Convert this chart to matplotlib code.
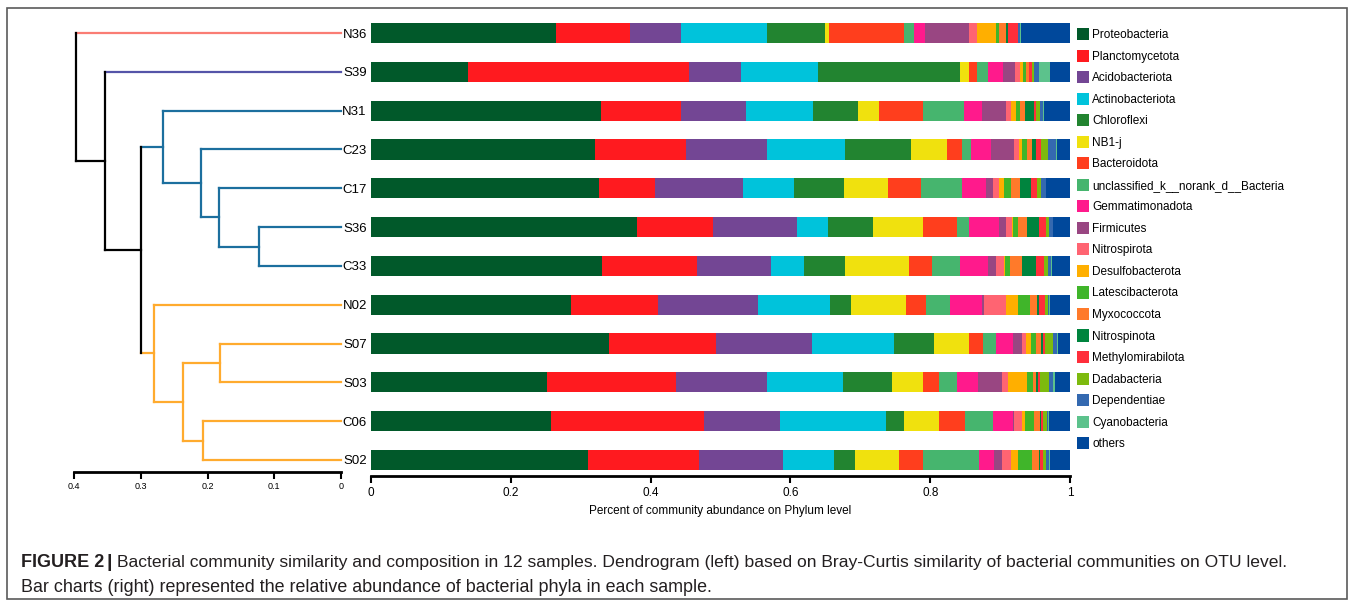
"""
Dendrogram of 12 samples (Bray-Curtis) next to stacked bars of phylum
relative abundance, with the figure caption underneath.
"""

import numpy as np
import matplotlib.pyplot as plt
from matplotlib.patches import Patch, Rectangle

plt.rcParams['font.family'] = ['Liberation Sans', 'DejaVu Sans']

W, H = 1354, 602

samples = ["N36", "S39", "N31", "C23", "C17", "S36",
           "C33", "N02", "S07", "S03", "C06", "S02"]

phyla = ["Proteobacteria", "Planctomycetota", "Acidobacteriota", "Actinobacteriota",
         "Chloroflexi", "NB1-j", "Bacteroidota", "unclassified_k__norank_d__Bacteria",
         "Gemmatimonadota", "Firmicutes", "Nitrospirota", "Desulfobacterota",
         "Latescibacterota", "Myxococcota", "Nitrospinota", "Methylomirabilota",
         "Dadabacteria", "Dependentiae", "Cyanobacteria", "others"]

phylum_colors = ["#01592a", "#ff1a1f", "#734694", "#00c3db", "#228430", "#f0e10e",
                 "#ff3e1d", "#46b56e", "#ff1a8c", "#994682", "#ff6472", "#ffaf00",
                 "#40b52a", "#ff7a2a", "#00843e", "#ff2e3b", "#7dba0e", "#3469b0",
                 "#5cc28c", "#00489b"]

# cumulative right edge of every phylum segment, one list per sample
n36 = [0.265, 0.370, 0.444, 0.567, 0.650, 0.655, 0.762, 0.777, 0.793, 0.855,
       0.867, 0.894, 0.898, 0.908, 0.911, 0.925, 0.926, 0.929, 0.930, 1.0]
s39 = [0.139, 0.455, 0.530, 0.639, 0.842, 0.855, 0.867, 0.883, 0.904, 0.922,
       0.928, 0.933, 0.937, 0.941, 0.942, 0.946, 0.948, 0.956, 0.971, 1.0]
n31 = [0.329, 0.444, 0.536, 0.632, 0.697, 0.727, 0.790, 0.849, 0.874, 0.909,
       0.916, 0.923, 0.928, 0.936, 0.948, 0.951, 0.957, 0.962, 0.963, 1.0]
c23 = [0.321, 0.451, 0.567, 0.678, 0.773, 0.824, 0.845, 0.858, 0.887, 0.920,
       0.927, 0.932, 0.938, 0.945, 0.951, 0.959, 0.968, 0.980, 0.981, 1.0]
c17 = [0.326, 0.407, 0.532, 0.605, 0.676, 0.740, 0.787, 0.845, 0.880, 0.890,
       0.899, 0.906, 0.916, 0.928, 0.944, 0.953, 0.959, 0.965, 0.966, 1.0]
s36 = [0.380, 0.489, 0.610, 0.654, 0.718, 0.790, 0.839, 0.856, 0.898, 0.908,
       0.917, 0.918, 0.925, 0.938, 0.955, 0.966, 0.970, 0.975, 0.976, 1.0]
c33 = [0.330, 0.466, 0.572, 0.619, 0.678, 0.769, 0.803, 0.842, 0.882, 0.894,
       0.905, 0.907, 0.914, 0.931, 0.951, 0.963, 0.968, 0.973, 0.974, 1.0]
n02 = [0.286, 0.410, 0.554, 0.656, 0.686, 0.765, 0.794, 0.829, 0.874, 0.877,
       0.908, 0.926, 0.943, 0.953, 0.956, 0.964, 0.968, 0.970, 0.971, 1.0]
s07 = [0.340, 0.494, 0.631, 0.748, 0.806, 0.855, 0.876, 0.894, 0.918, 0.932,
       0.937, 0.944, 0.952, 0.959, 0.961, 0.964, 0.975, 0.981, 0.983, 1.0]
s03 = [0.252, 0.437, 0.567, 0.675, 0.746, 0.789, 0.813, 0.839, 0.868, 0.903,
       0.911, 0.938, 0.947, 0.952, 0.954, 0.957, 0.970, 0.976, 0.979, 1.0]
c06 = [0.258, 0.477, 0.585, 0.737, 0.763, 0.813, 0.850, 0.890, 0.918, 0.920,
       0.931, 0.936, 0.949, 0.957, 0.959, 0.962, 0.967, 0.969, 0.970, 1.0]
s02 = [0.310, 0.469, 0.589, 0.662, 0.692, 0.755, 0.790, 0.870, 0.891, 0.903,
       0.915, 0.925, 0.945, 0.955, 0.957, 0.961, 0.965, 0.970, 0.971, 1.0]

cum_rows = [n36, s39, n31, c23, c17, s36, c33, n02, s07, s03, c06, s02]

# dendrogram as nested (height, left, right)
tree = (0.397, "N36",
        (0.354, "S39",
         (0.300,
          (0.266, "N31", (0.210, "C23", (0.183, "C17", (0.123, "S36", "C33")))),
          (0.280, "N02", (0.236, (0.181, "S07", "S03"), (0.206, "C06", "S02"))))))

sample_group = {"N36": "a", "S39": "b",
                "N31": "c", "C23": "c", "C17": "c", "S36": "c", "C33": "c",
                "N02": "d", "S07": "d", "S03": "d", "C06": "d", "S02": "d"}
group_colors = {"a": "#fa7d74", "b": "#5554a8", "c": "#1c6f9e",
                "d": "#ffab2e", "mixed": "black"}

caption_bold = "FIGURE 2"
caption_1 = ("Bacterial community similarity and composition in 12 samples. Dendrogram (left) "
             "based on Bray-Curtis similarity of bacterial communities on OTU level.")
caption_2 = "Bar charts (right) represented the relative abundance of bacterial phyla in each sample."


def px_x(x):
    return x / W


def px_y(y):
    return 1 - y / H


fig = plt.figure(figsize=(W / 100, H / 100), dpi=100)

# thin frame around the whole figure
fig.patches.append(Rectangle((px_x(7), px_y(599)), px_x(1340), (599 - 8) / H,
                             transform=fig.transFigure, fill=False,
                             edgecolor="#5a5a5a", linewidth=1.2))

row_px = (460 - 33) / 11

# ---- dendrogram ----
ax_d = fig.add_axes([px_x(74), px_y(472), px_x(267), (472 - 17) / H])
ax_d.set_xlim(0.4, 0)
ax_d.set_ylim(11 + (472 - 460) / row_px, -(33 - 17) / row_px)

leaf_y = {s: i for i, s in enumerate(samples)}


def draw_node(node):
    if isinstance(node, str):
        return leaf_y[node], 0.0, sample_group[node]
    h, a, b = node
    ya, ha, ga = draw_node(a)
    yb, hb, gb = draw_node(b)
    g = ga if ga == gb else "mixed"
    kw = dict(linewidth=1.6, solid_capstyle="projecting", clip_on=False)
    ax_d.plot([h, ha], [ya, ya], color=group_colors[ga], **kw)
    ax_d.plot([h, hb], [yb, yb], color=group_colors[gb], **kw)
    ax_d.plot([h, h], [ya, yb], color=group_colors[g], **kw)
    return (ya + yb) / 2, h, g


draw_node(tree)

for side in ["left", "top", "right"]:
    ax_d.spines[side].set_visible(False)
ax_d.spines["bottom"].set_linewidth(2)
ax_d.set_yticks([])
ax_d.set_xticks([0.4, 0.3, 0.2, 0.1, 0])
ax_d.set_xticklabels(["0.4", "0.3", "0.2", "0.1", "0"],
                     family=["Liberation Sans Narrow", "Liberation Sans"], fontsize=6.5)
ax_d.tick_params(axis="x", direction="out", length=5, width=1.5, pad=2)

# ---- stacked bars ----
ax_b = fig.add_axes([px_x(371), px_y(476), px_x(699), (476 - 17) / H])

cum = np.array(cum_rows)
widths = np.diff(np.hstack([np.zeros((len(samples), 1)), cum]), axis=1)
starts = cum - widths
y = np.arange(len(samples))
for j, name in enumerate(phyla):
    ax_b.barh(y, widths[:, j], left=starts[:, j], height=0.52,
              color=phylum_colors[j], edgecolor="none", label=name)

ax_b.set_xlim(0, 1)
ax_b.set_ylim(11 + (476 - 460) / row_px, -(33 - 17) / row_px)
for side in ["left", "top", "right"]:
    ax_b.spines[side].set_visible(False)
ax_b.spines["bottom"].set_linewidth(2)
ax_b.set_xticks([0, 0.2, 0.4, 0.6, 0.8, 1])
ax_b.set_xticklabels(["0", "0.2", "0.4", "0.6", "0.8", "1"], fontsize=8.5)
ax_b.tick_params(axis="x", direction="out", length=5, width=1.5, pad=3)
ax_b.set_yticks(y)
ax_b.set_yticklabels(samples, fontsize=9.5)
ax_b.tick_params(axis="y", length=0, pad=3)
ax_b.set_xlabel("Percent of community abundance on Phylum level", fontsize=8.5, labelpad=4)

handles = [Patch(facecolor=c, edgecolor="none", label=p)
           for p, c in zip(phyla, phylum_colors)]
fig.legend(handles=handles, loc="upper left", bbox_to_anchor=(px_x(1077), px_y(28)),
           frameon=False, fontsize=8.5, handlelength=1.0, handleheight=1.2,
           handletextpad=0.3, labelspacing=0.72, borderpad=0, borderaxespad=0)

# ---- caption ----
cap_color = "#231f20"
fig.text(px_x(21), px_y(567), caption_bold, fontsize=13, fontweight="bold",
         va="baseline", color=cap_color)
fig.text(px_x(107), px_y(567), "|", fontsize=14, fontweight="bold",
         va="baseline", color=cap_color)
fig.text(px_x(117), px_y(567), caption_1, fontsize=12.6, va="baseline", color=cap_color)
fig.text(px_x(21), px_y(592), caption_2, fontsize=12.9, va="baseline", color=cap_color)

fig.savefig("out.png", dpi=100)
